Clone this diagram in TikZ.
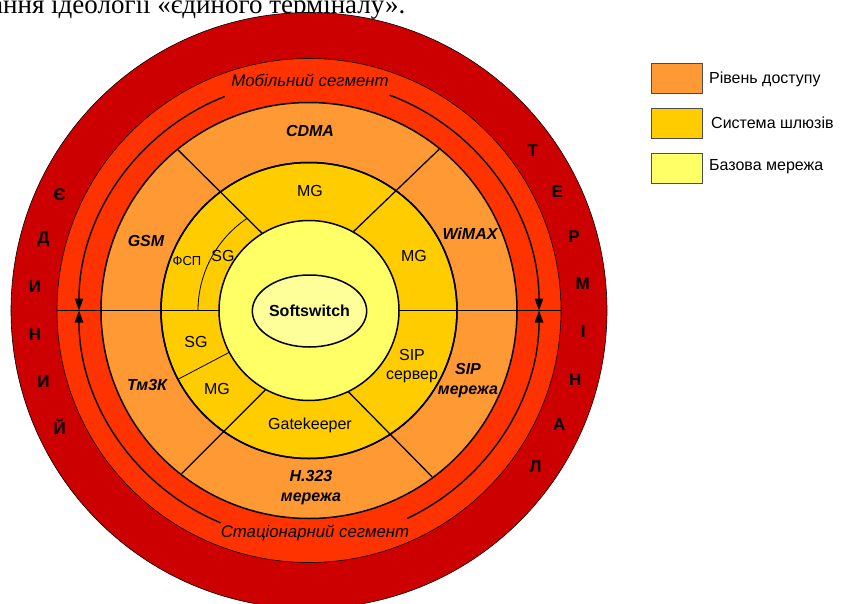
\documentclass[tikz,border=0pt]{standalone}
\usepackage{fontspec}
\setmainfont{Liberation Sans}
\newfontfamily\captionserif{Liberation Serif}
\usetikzlibrary{arrows.meta,shapes.geometric}
\definecolor{cOuter}{HTML}{CC0000}
\definecolor{cRing}{HTML}{FF3300}
\definecolor{cAccess}{HTML}{FF9933}
\definecolor{cGate}{HTML}{FFCC00}
\definecolor{cCore}{HTML}{FFFF66}
\definecolor{cEll}{HTML}{FFFF99}
\begin{document}
\begin{tikzpicture}[x=1pt,y=1pt,
  lab/.style={font=\fontsize{16}{19.5}\selectfont, inner sep=0pt, align=center},
  small/.style={font=\fontsize{13}{15}\selectfont, inner sep=0pt},
  acc/.style={font=\fontsize{16}{20}\selectfont\bfseries\itshape, inner sep=0pt, align=center},
  seg/.style={font=\fontsize{16.8}{20}\selectfont\itshape, inner sep=0pt},
  letter/.style={font=\fontsize{17}{19}\selectfont\bfseries, inner sep=0pt},
  thick ring/.style={draw=black, line width=1.5},
  thin ring/.style={draw=black, line width=0.6},
  divider/.style={draw=black, line width=1.3},
  fine/.style={draw=black, line width=0.8},
  flow/.style={draw=black, line width=1.4, -{Triangle[length=12pt,width=8.5pt]}},
  legbox/.style={draw=black!70, line width=0.8, minimum width=51, minimum height=30, inner sep=0pt},
  legtext/.style={font=\fontsize{16}{18}\selectfont, inner sep=0pt, anchor=west}]
\useasboundingbox (-309,-292.5) rectangle (532,310.5);
% caption fragment at the top (cut by the page edge)
\node[font=\captionserif\fontsize{27}{30}\selectfont, inner sep=0pt, anchor=base west] (cap) at (-318,296.5) {ання ідеології «єдиного терміналу».};
% rings
\path[fill=cOuter, thin ring] (0,0) circle (298);
\path[fill=cRing, thin ring] (0,0) circle (252);
\path[fill=cAccess, thick ring] (0,0) circle (208);
\path[fill=cGate, thick ring] (0,0) circle (148);
% dividers in access ring
\draw[divider] (180:90) -- (180:252);
\draw[divider] (0:90) -- (0:252);
\draw[divider] (121.2:90) -- (129.2:207);
\draw[divider] (60.7:90) -- (51.1:207);
\draw[divider] (241.3:90) -- (232:207);
\draw[divider] (295.8:90) -- (306.5:207);
% gateway ring inner separators
\draw[fine] (180:111) arc[start angle=180, end angle=124, radius=111];
\draw[fine] (207.7:90) -- (207.7:148);
% redraw gateway circle on top of dividers
\path[thick ring] (0,0) circle (148);
\path[fill=cCore, thick ring] (0,0) circle (90);
\node[ellipse, draw=black, line width=1.5, fill=cEll, minimum width=113, minimum height=72, inner sep=0pt,
      font=\fontsize{16}{19}\selectfont\bfseries] (soft) at (0.5,-0.5) {Softswitch};
% circulation arrows
\draw[flow] (111.5:230) arc[start angle=111.5, end angle=180, radius=230];
\draw[flow] (69.5:230) arc[start angle=69.5, end angle=0, radius=230];
\draw[flow] (247.4:230) arc[start angle=247.4, end angle=180, radius=230];
\draw[flow] (295.3:230) arc[start angle=295.3, end angle=360, radius=230];
% segment labels
\node[seg] (mob) at (1,230.5) {Мобільний сегмент};
\node[seg] (stat) at (6,-222.5) {Стаціонарний сегмент};
% access networks
\node[acc] (cdma) at (1,179.5) {CDMA};
\node[acc] (gsm) at (-163,69.5) {GSM};
\node[acc] (wimax) at (161,76.5) {WiMAX};
\node[acc] (tmzk) at (-162,-74.5) {Тм3К};
\node[acc] (sipnet) at (159,-70) {SIP\\мережа};
\node[acc] (h323) at (2,-177.5) {H.323\\мережа};
% gateways
\node[lab] (mgtop) at (1,119.5) {MG};
\node[lab] (mgright) at (105,54.5) {MG};
\node[small] (fsp) at (-122,49.5) {ФСП};
\node[lab] (sgup) at (-86,54.5) {SG};
\node[lab] (sglow) at (-113,-31.5) {SG};
\node[lab] (mglow) at (-92,-78.5) {MG};
\node[lab] (gk) at (1,-114.5) {Gatekeeper};
\node[lab] (sipsrv) at (103,-55.5) {SIP\\сервер};
% outer ring letters
\foreach \l [count=\i] in {Є,Д,И,Н,И,Й}
  \node[letter] (left\i) at ({145+10*\i}:275) {\l};
\foreach \l [count=\i] in {Т,Е,Р,М,І,Н,А,Л}
  \node[letter] (right\i) at ({45.5-10*\i}:275) {\l};
% legend
\node[legbox, fill=cAccess] (leg1) at (367.5,232.5) {};
\node[legbox, fill=cGate] (leg2) at (367.5,187.5) {};
\node[legbox, fill=cCore] (leg3) at (367.5,142.5) {};
\node[legtext] (legt1) at (400,231.5) {Рівень доступу};
\node[legtext] (legt2) at (402,187.5) {Система шлюзів};
\node[legtext] (legt3) at (400,143.5) {Базова мережа};
\end{tikzpicture}
\end{document}
